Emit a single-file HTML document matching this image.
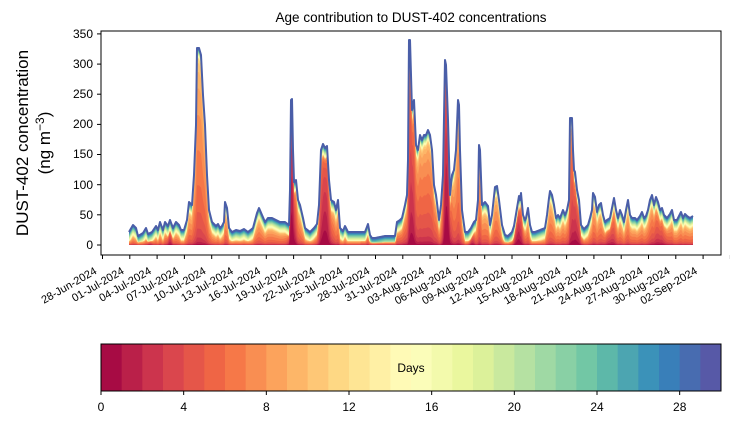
<!DOCTYPE html>
<html><head><meta charset="utf-8"><style>
body{margin:0;background:#fff;}
svg{display:block;font-family:"Liberation Sans","DejaVu Sans",sans-serif;}
</style></head><body>
<svg id="s" width="730" height="425" viewBox="0 0 730 425" xmlns="http://www.w3.org/2000/svg">
<rect width="730" height="425" fill="#fff"/>
<g id="bands"></g>
<rect x="101" y="31" width="620" height="224" fill="none" stroke="#000" stroke-width="1"/>
<text x="411" y="22" font-size="13.5" text-anchor="middle">Age contribution to DUST-402 concentrations</text>
<g font-size="12" text-anchor="end">
<text x="93" y="249">0</text><text x="93" y="219">50</text><text x="93" y="189">100</text><text x="93" y="158">150</text><text x="93" y="128">200</text><text x="93" y="98">250</text><text x="93" y="68">300</text><text x="93" y="38">350</text>
</g>
<g stroke="#000" stroke-width="1">
<line x1="97" x2="101" y1="245" y2="245"/><line x1="97" x2="101" y1="214.8" y2="214.8"/><line x1="97" x2="101" y1="184.7" y2="184.7"/><line x1="97" x2="101" y1="154.5" y2="154.5"/><line x1="97" x2="101" y1="124.4" y2="124.4"/><line x1="97" x2="101" y1="94.2" y2="94.2"/><line x1="97" x2="101" y1="64.1" y2="64.1"/><line x1="97" x2="101" y1="33.9" y2="33.9"/>
</g>
<g id="xt"></g>
<g font-size="17" text-anchor="middle">
<text transform="translate(28,143) rotate(-90)">DUST-402 concentration</text>
<text transform="translate(50,143) rotate(-90)">(ng m<tspan dy="-6" font-size="12">−3</tspan><tspan dy="6">)</tspan></text>
</g>
<g font-size="11" text-anchor="end" id="xl">
<text>28-Jun-2024</text><text>01-Jul-2024</text><text>04-Jul-2024</text><text>07-Jul-2024</text><text>10-Jul-2024</text><text>13-Jul-2024</text><text>16-Jul-2024</text><text>19-Jul-2024</text><text>22-Jul-2024</text><text>25-Jul-2024</text><text>28-Jul-2024</text><text>31-Jul-2024</text><text>03-Aug-2024</text><text>06-Aug-2024</text><text>09-Aug-2024</text><text>12-Aug-2024</text><text>15-Aug-2024</text><text>18-Aug-2024</text><text>21-Aug-2024</text><text>24-Aug-2024</text><text>27-Aug-2024</text><text>30-Aug-2024</text><text>02-Sep-2024</text>
</g>
<g id="cb"></g>
<rect x="101" y="344" width="620" height="47" fill="none" stroke="#000" stroke-width="1"/>
<text x="411" y="372" font-size="12" text-anchor="middle">Days</text>
<g font-size="12" text-anchor="middle">
<text x="101" y="411">0</text><text x="183.7" y="411">4</text><text x="266.3" y="411">8</text><text x="349" y="411">12</text><text x="431.7" y="411">16</text><text x="514.3" y="411">20</text><text x="597" y="411">24</text><text x="679.7" y="411">28</text>
</g>
</svg>
<script>
var NS="http://www.w3.org/2000/svg";
var sp=["#9e0142","#d53e4f","#f46d43","#fdae61","#fee08b","#ffffbf","#e6f598","#abdda4","#66c2a5","#3288bd","#5e4fa2"];
function hx(c){return [parseInt(c.substr(1,2),16),parseInt(c.substr(3,2),16),parseInt(c.substr(5,2),16)];}
function cmap(t){var f=t*10,i=Math.min(9,Math.floor(f)),u=f-i,a=hx(sp[i]),b=hx(sp[i+1]);
return "rgb("+[0,1,2].map(function(k){return Math.round(a[k]+(b[k]-a[k])*u);}).join(",")+")";}
function el(tag,at,par){var e=document.createElementNS(NS,tag);for(var k in at)e.setAttribute(k,at[k]);par.appendChild(e);return e;}
var cb=document.getElementById("cb");
for(var i=0;i<30;i++){el("rect",{x:101+i*620/30,y:344,width:620/30+0.5,height:47,fill:cmap((i+0.5)/30)},cb);}
for(var i=0;i<=7;i++){el("line",{x1:101+i*4*620/30,x2:101+i*4*620/30,y1:391,y2:395,stroke:"#000"},cb);}
var xt=document.getElementById("xt");
var labs=document.getElementById("xl").getElementsByTagName("text");
for(var i=0;i<24;i++){var x=102.5+i*27.3;el("line",{x1:x,x2:x,y1:255,y2:259,stroke:"#000"},xt);
 if(i<labs.length){labs[i].setAttribute("transform","translate("+(x-5)+",273) rotate(-30)");}}
var P=[[129,232],[133,225],[136,228],[138,236],[143,233],[146,228],[148,234],[152,232],[156,226],[158,230],[160,222],[163,230],[165,222],[168,226],[170,220],[173,228],[176,222],[179,225],[181,230],[184,230],[187,220],[189,202],[192,205],[194,175],[196,125],[197,48],[199,48],[201,55],[203,95],[205,125],[207,175],[209,210],[212,222],[216,226],[218,224],[220,228],[222,226],[224,222],[225,202],[227,208],[229,228],[232,232],[236,230],[240,231],[244,229],[248,232],[253,228],[257,213],[259,208],[262,215],[265,222],[268,218],[272,218],[276,220],[280,222],[285,222],[289,225],[290,190],[291,100],[292,99],[293,150],[294,182],[296,180],[298,200],[300,205],[303,218],[305,228],[310,232],[314,228],[317,224],[319,205],[321,150],[323,144],[325,148],[327,146],[329,180],[331,200],[334,202],[336,210],[338,200],[340,228],[343,231],[345,226],[348,232],[360,232],[365,232],[368,224],[370,235],[372,238],[375,238],[380,237],[385,236],[395,236],[397,222],[400,220],[402,218],[405,205],[407,195],[408,160],[409,40],[410,40],[412,110],[414,100],[416,145],[418,150],[420,135],[422,140],[424,135],[426,135],[428,130],[430,135],[432,150],[434,185],[436,195],[437,203],[439,220],[441,205],[443,175],[445,60],[446,65],[448,120],[450,195],[452,175],[454,170],[456,150],[458,100],[459,105],[460,150],[462,210],[465,232],[468,232],[471,228],[474,222],[476,220],[478,200],[479,145],[480,150],[482,205],[485,202],[488,206],[490,225],[492,215],[495,187],[497,186],[499,200],[502,225],[505,235],[508,236],[512,232],[514,226],[517,208],[519,196],[520,200],[521,193],[523,215],[525,220],[526,218],[528,208],[530,225],[532,232],[535,232],[540,230],[545,228],[547,215],[549,198],[550,191],[552,195],[554,205],[556,218],[558,215],[560,218],[563,210],[565,215],[567,210],[569,200],[570,118],[572,118],[573,150],[574,170],[575,172],[577,190],[579,200],[581,225],[584,229],[588,225],[590,218],[592,210],[593,193],[595,197],[597,212],[599,205],[601,203],[603,215],[605,222],[607,220],[610,218],[612,208],[614,198],[616,210],[618,218],[620,210],[622,215],[624,222],[626,210],[628,200],[630,215],[632,218],[635,218],[637,220],[640,216],[642,212],[644,218],[646,216],[648,210],[650,200],[652,195],[654,205],[656,197],[658,202],[660,210],[662,208],[664,215],[667,218],[670,214],[672,210],[674,220],[677,220],[679,216],[681,212],[683,218],[685,214],[687,216],[690,218],[693,216]];
function topAt(x){for(var i=0;i<P.length-1;i++){if(x>=P[i][0]&&x<=P[i+1][0]){var u=(x-P[i][0])/(P[i+1][0]-P[i][0]||1);return P[i][1]+(P[i+1][1]-P[i][1])*u;}}return P[P.length-1][1];}
// center age of dominant contribution (lower = redder)
var reds=[[292,4,1.2],[325,6,2],[170,3,3],[150,3,4],[412,3,3],[447,4,1],[472,3,3],[518,5,2],[576,6,3],[610,6,4],[660,8,4.5]];
function mAt(x){var m=7;if(x>360&&x<440)m=6;for(var j=0;j<reds.length;j++){var r=reds[j];var g=Math.exp(-Math.pow((x-r[0])/r[1],2));m=m*(1-g)+r[2]*g;}return m;}
function sig(z){return 1/(1+Math.exp(-z));}
var xs=[];for(var x=129;x<=693;x+=1)xs.push(x);
var tops=xs.map(function(x){return 245-topAt(x);});
function C(a,T,x){function off(b){return Math.min(0.7*T,(30-b)*0.6);}
 if(a>=30)return T; if(a>=12)return T-off(a); var c=T-off(12); var m=mAt(x);
 var lo=sig((0-m)/1.3),hi=sig((12-m)/1.3); return c*(sig((a-m)/1.3)-lo)/(hi-lo);}
var bg=document.getElementById("bands");
for(var a=29;a>=0;a--){var d="M"+xs[0]+",245";
 for(var i=0;i<xs.length;i++){d+=" L"+xs[i]+","+(245-C(a+1,tops[i],xs[i])).toFixed(2);}
 d+=" L"+xs[xs.length-1]+",245 Z";
 el("path",{d:d,fill:cmap((a+0.5)/30)},bg);}
var d2="";for(var i=0;i<xs.length;i++){d2+=(i?" L":"M")+xs[i]+","+(245-tops[i]).toFixed(2);}
el("path",{d:d2,fill:"none",stroke:"#4a5ea8","stroke-width":2,"stroke-linejoin":"round"},bg);
</script>
</body></html>
